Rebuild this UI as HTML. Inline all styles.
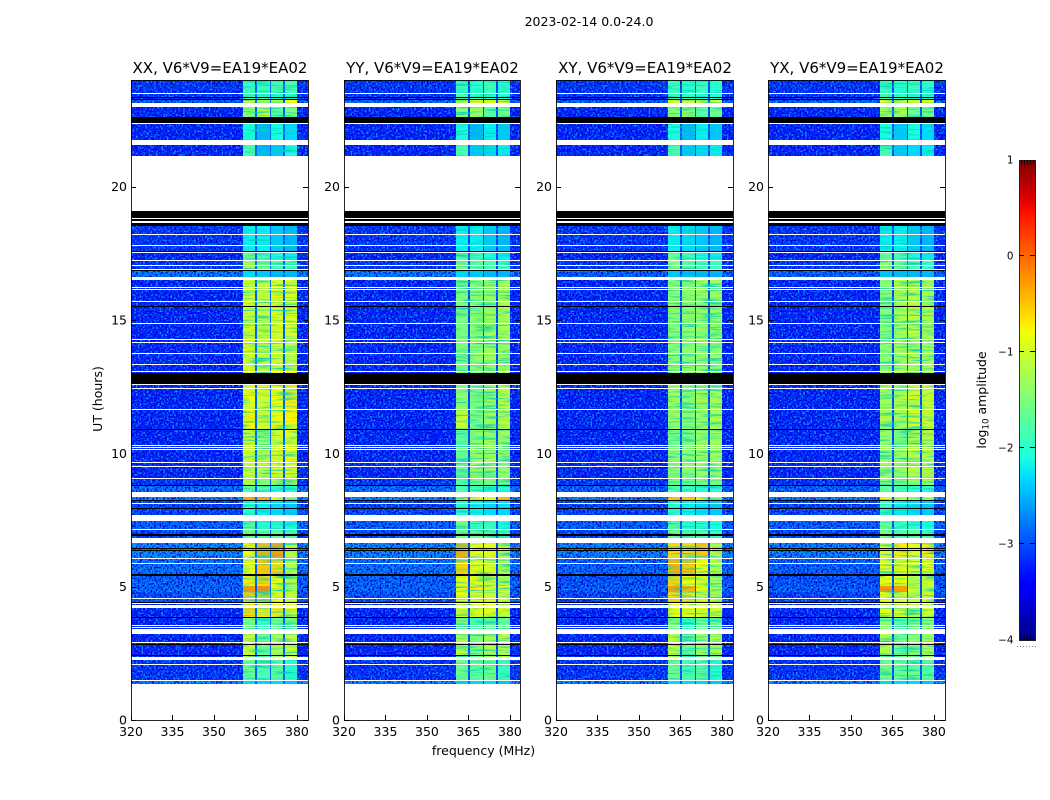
<!DOCTYPE html>
<html>
<head>
<meta charset="utf-8">
<title>2023-02-14 0.0-24.0</title>
<style>
html,body{margin:0;padding:0;background:#fff;}
svg{display:block;}
text{font-family:"DejaVu Sans","Liberation Sans",sans-serif;fill:#000;}
</style>
</head>
<body>
<svg id="chart" width="1050" height="800" viewBox="0 0 1050 800" xmlns="http://www.w3.org/2000/svg">
<defs>
<filter id="speckleLight" x="0" y="0" width="100%" height="100%" color-interpolation-filters="sRGB">
<feTurbulence type="fractalNoise" baseFrequency="0.55" numOctaves="1" seed="4"/>
<feColorMatrix type="matrix" values="0 0 0 0 0.05  0 0 0 0 0.62  0 0 0 0 1  4.4 0 0 0 -2.0"/>
</filter>
<filter id="speckleDark" x="0" y="0" width="100%" height="100%" color-interpolation-filters="sRGB">
<feTurbulence type="fractalNoise" baseFrequency="0.55" numOctaves="1" seed="9"/>
<feColorMatrix type="matrix" values="0 0 0 0 0  0 0 0 0 0  0 0 0 0 0.82  4.4 0 0 0 -2.0"/>
</filter>
<filter id="speckleBand" x="0" y="0" width="100%" height="100%" color-interpolation-filters="sRGB">
<feTurbulence type="fractalNoise" baseFrequency="0.04 0.6" numOctaves="2" seed="13"/>
<feColorMatrix type="matrix" values="0 0 0 0 0  0 0 0 0 0.8  0 0 0 0 0.75  2.6 0 0 0 -1.2"/>
</filter>
</defs>
</svg>
<script>
// ---- chart data (UT hours, MHz, log10 amplitude) ----
const panelTitles = ["XX, V6*V9=EA19*EA02", "YY, V6*V9=EA19*EA02", "XY, V6*V9=EA19*EA02", "YX, V6*V9=EA19*EA02"];
const xTickValues = [320, 335, 350, 365, 380];
const yTickValues = [0, 5, 10, 15, 20];
const colorTickValues = [-4, -3, -2, -1, 0, 1];
const freqEdges = [320, 360.5, 365, 365.7, 370.2, 370.7, 375.1, 375.8, 379.9, 384];
const hourEdges = [24, 23.48, 23.29, 23.14, 22.61, 22.35, 21.75, 21.15, 18.53, 17.59, 17.25, 16.88, 16.61, 15.53, 14.25, 13.05, 11.63, 10.88, 10.24, 9.04, 8.78, 8.36, 8.21, 7.69, 7.13, 6.64, 6.08, 5.44, 5.03, 4.8, 4.35, 3.86, 3.41, 2.36, 1.5, 1.35];
const notchLevels = [-2.95, -3.1, -3.05, -3.05];
// each row: background, sub-band 1, sub-band 2, sub-band 3, sub-band 4
const xxLevels = [
[-3.15,-1.9,-1.9,-1.8,-1.8],[-3.15,-1.8,-1.9,-2.0,-2.0],[-2.85,-0.9,-1.1,-1.1,-0.8],[-3.25,-1.4,-1.1,-1.7,-1.5],[-3.25,-1.4,-1.1,-1.7,-1.5],
[-3.25,-2.1,-2.5,-2.1,-2.3],[-3.25,-1.8,-2.5,-2.4,-2.1],[-3.25,-1.8,-2.5,-2.4,-2.1],[-3.15,-2.2,-2.2,-2.4,-2.5],[-3.25,-1.6,-1.8,-2.1,-2.2],
[-3.15,-1.2,-1.6,-1.8,-1.8],[-2.7,-2.3,-2.4,-2.5,-2.5],[-3.25,-1.0,-1.1,-0.9,-0.9],[-3.25,-1.0,-1.1,-0.9,-0.95],[-3.25,-0.95,-1.05,-0.95,-1.1],
[-3.25,-0.8,-1.0,-0.8,-0.7],[-3.25,-0.75,-1.0,-0.8,-0.75],[-3.25,-1.0,-1.4,-1.0,-0.9],[-3.25,-0.95,-1.1,-0.9,-0.85],[-3.15,-1.1,-1.4,-1.3,-1.2],
[-2.75,-1.6,-1.8,-2.0,-2.0],[-2.6,-0.3,-0.35,-0.8,-1.2],[-3.05,-2.0,-2.2,-2.3,-2.4],[-2.85,-1.7,-2.0,-2.0,-2.1],[-3.05,-1.5,-1.6,-1.6,-1.8],
[-2.6,-0.8,-0.45,-0.3,-1.1],[-2.75,-0.8,-0.5,-0.6,-1.2],[-2.85,-0.7,-0.6,-0.8,-1.1],[-2.8,-0.25,-0.2,-0.8,-1.1],[-2.95,-0.5,-0.6,-0.9,-1.1],
[-3.25,-0.6,-0.7,-0.7,-0.8],[-3.25,-1.5,-1.9,-1.6,-1.5],[-3.25,-1.0,-1.6,-1.2,-1.1],[-3.15,-1.6,-1.8,-1.7,-2.0],[-2.6,-2.3,-2.3,-2.3,-2.4]];
const yyLevels = [
[-3.15,-1.9,-2.0,-1.9,-2.0],[-3.15,-1.8,-1.9,-2.0,-2.0],[-2.85,-0.85,-0.95,-0.95,-0.9],[-3.25,-1.4,-1.3,-1.7,-1.5],[-3.25,-1.4,-1.3,-1.7,-1.5],
[-3.25,-2.1,-2.5,-2.2,-2.4],[-3.25,-1.8,-2.4,-2.3,-2.2],[-3.25,-1.8,-2.4,-2.3,-2.2],[-3.15,-2.2,-2.2,-2.4,-2.5],[-3.25,-1.7,-1.9,-2.1,-2.2],
[-3.15,-1.5,-1.7,-1.8,-1.9],[-2.7,-2.3,-2.4,-2.5,-2.5],[-3.25,-1.5,-1.4,-1.3,-1.2],[-3.25,-1.5,-1.4,-1.3,-1.25],[-3.25,-1.5,-1.4,-1.3,-1.3],
[-3.25,-1.4,-1.5,-1.3,-1.15],[-3.25,-1.05,-1.5,-1.3,-1.15],[-3.25,-1.7,-1.4,-1.3,-1.3],[-3.25,-1.6,-1.3,-1.3,-1.35],[-3.15,-1.7,-1.5,-1.5,-1.5],
[-2.75,-1.8,-1.8,-2.0,-2.0],[-2.6,-0.85,-0.95,-1.0,-0.5],[-3.05,-2.0,-2.2,-2.3,-2.3],[-2.85,-1.5,-1.9,-1.9,-2.1],[-3.05,-1.5,-1.6,-1.6,-1.8],
[-2.6,-0.4,-0.8,-0.9,-1.2],[-2.75,-0.6,-0.9,-0.9,-1.2],[-2.85,-0.8,-0.9,-1.0,-1.2],[-2.8,-0.8,-0.7,-0.9,-0.8],[-2.95,-0.8,-0.9,-1.0,-1.0],
[-3.25,-0.9,-0.9,-0.9,-1.0],[-3.25,-1.5,-1.8,-1.6,-1.6],[-3.25,-1.1,-1.5,-1.2,-1.1],[-3.15,-1.6,-1.7,-1.6,-1.9],[-2.6,-2.3,-2.3,-2.3,-2.4]];
const xyLevels = [
[-3.15,-1.9,-2.0,-1.9,-2.0],[-3.15,-1.8,-1.9,-2.0,-2.0],[-2.85,-0.9,-1.0,-1.1,-0.9],[-3.25,-1.4,-1.3,-1.7,-1.6],[-3.25,-1.4,-1.3,-1.7,-1.6],
[-3.25,-2.1,-2.5,-2.2,-2.4],[-3.25,-1.8,-2.4,-2.3,-2.2],[-3.25,-1.8,-2.4,-2.3,-2.2],[-3.15,-2.2,-2.3,-2.4,-2.5],[-3.25,-1.6,-1.8,-2.1,-2.2],
[-3.15,-1.4,-1.7,-1.8,-1.9],[-2.85,-2.4,-2.5,-2.5,-2.5],[-3.25,-1.4,-1.4,-1.3,-1.3],[-3.25,-1.4,-1.4,-1.35,-1.3],[-3.25,-1.4,-1.4,-1.35,-1.35],
[-3.25,-1.3,-1.4,-1.25,-1.2],[-3.25,-1.25,-1.4,-1.25,-1.2],[-3.25,-1.5,-1.5,-1.3,-1.3],[-3.25,-1.4,-1.4,-1.3,-1.3],[-3.15,-1.5,-1.6,-1.5,-1.5],
[-2.85,-1.7,-1.9,-2.0,-2.0],[-2.65,-0.5,-0.5,-0.9,-1.2],[-3.05,-2.0,-2.2,-2.3,-2.4],[-2.85,-1.7,-2.0,-2.0,-2.1],[-3.05,-1.5,-1.7,-1.7,-1.9],
[-2.65,-0.6,-0.6,-0.5,-1.2],[-2.85,-0.4,-0.5,-0.8,-1.2],[-2.95,-0.6,-0.8,-0.9,-1.2],[-2.85,-0.3,-0.4,-0.9,-1.1],[-3.05,-0.6,-0.7,-1.0,-1.1],
[-3.25,-0.8,-0.9,-0.9,-1.0],[-3.25,-1.5,-1.9,-1.6,-1.6],[-3.25,-1.1,-1.6,-1.3,-1.2],[-3.15,-1.6,-1.8,-1.7,-2.0],[-2.6,-2.3,-2.3,-2.3,-2.4]];
const yxLevels = [
[-3.15,-1.9,-2.0,-1.9,-2.0],[-3.15,-1.8,-1.9,-2.0,-2.0],[-2.85,-0.9,-1.0,-1.0,-0.85],[-3.25,-1.3,-1.2,-1.6,-1.5],[-3.25,-1.3,-1.2,-1.6,-1.5],
[-3.25,-2.1,-2.4,-2.1,-2.3],[-3.25,-1.8,-2.4,-2.3,-2.2],[-3.25,-1.8,-2.4,-2.3,-2.2],[-3.15,-2.2,-2.2,-2.4,-2.5],[-3.25,-1.6,-1.8,-2.1,-2.2],
[-3.15,-1.4,-1.6,-1.8,-1.9],[-2.85,-2.4,-2.5,-2.5,-2.5],[-3.25,-1.45,-1.2,-1.1,-1.2],[-3.25,-1.45,-1.2,-1.1,-1.2],[-3.25,-1.4,-1.25,-1.15,-1.2],
[-3.25,-1.25,-1.2,-1.0,-1.0],[-3.25,-1.2,-1.25,-1.0,-1.0],[-3.25,-1.35,-1.5,-1.1,-1.1],[-3.25,-1.3,-1.3,-1.15,-1.1],[-3.15,-1.4,-1.5,-1.4,-1.3],
[-2.85,-1.7,-1.8,-2.0,-2.0],[-2.65,-0.9,-1.0,-1.1,-1.2],[-3.05,-1.9,-2.2,-2.3,-2.4],[-2.85,-1.6,-1.9,-2.0,-2.1],[-3.05,-1.5,-1.7,-1.6,-1.8],
[-2.65,-0.9,-0.7,-0.9,-0.7],[-2.85,-0.9,-0.9,-1.0,-0.9],[-2.95,-0.8,-0.85,-1.1,-0.95],[-2.85,-0.25,-0.3,-1.0,-0.9],[-3.05,-0.85,-0.9,-1.1,-0.95],
[-3.25,-0.85,-0.9,-1.15,-0.9],[-3.25,-1.4,-1.7,-1.5,-1.4],[-3.25,-1.15,-1.6,-1.4,-1.2],[-3.15,-1.5,-1.6,-1.6,-1.7],[-2.6,-2.3,-2.3,-2.3,-2.4]];
// flagged time ranges: [upper hour, lower hour]
const whiteBands = [[23.52,23.49],[23.15,22.99],[22.39,22.35],[21.76,21.56],[21.16,19.09],[18.81,18.78],[18.71,18.64],[18.21,18.17],[17.81,17.76],[17.55,17.51],[17.25,17.22],[17.05,17.03],[16.92,16.89],[16.61,16.5],[16.25,16.2],[16.16,16.14],[15.71,15.68],[14.89,14.85],[14.29,14.25],[14.18,14.15],[13.76,13.73],[13.35,13.32],[13.09,13.05],[12.59,12.56],[12.46,12.42],[11.66,11.63],[10.3,10.26],[10.23,10.19],[10.16,10.14],[9.68,9.64],[9.53,9.49],[9.08,9.04],[8.56,8.36],[8.14,8.1],[7.7,7.46],[7.16,7.13],[6.84,6.64],[6.09,6.06],[5.9,5.86],[4.58,4.54],[4.38,4.34],[4.31,4.2],[3.56,3.53],[3.49,3.45],[3.41,3.23],[2.93,2.89],[2.36,2.25],[2.1,2.06],[1.5,1.46],[1.35,0]];
const blackBands = [[23.38,23.34],[23.28,23.24],[22.61,22.39],[19.09,18.83],[18.78,18.71],[18.64,18.53],[17.6,17.56],[16.89,16.85],[15.53,15.49],[13.02,12.6],[10.91,10.88],[8.81,8.78],[8.25,8.21],[7.96,7.92],[6.96,6.89],[6.46,6.42],[6.38,6.34],[5.46,5.39],[4.43,4.39],[3.86,3.83],[2.85,2.81],[2.44,2.4]];

// ---- layout ----
const svg = document.getElementById('chart');
const NS = 'http://www.w3.org/2000/svg';
const panelLefts = [131, 344, 556, 768];
const panelWidths = [177, 176, 177, 177];
const plotTop = 80, plotBottom = 720;
const allLevels = [xxLevels, yyLevels, xyLevels, yxLevels];
const panelKeys = ['xx', 'yy', 'xy', 'yx'];
const bandColumn = [0, 1, -1, 2, -1, 3, -1, 4, 0];
const xScale = (f, left) => left + (f - 320) / (384 - 320) * 177;
const yScale = h => plotBottom - h / 24 * (plotBottom - plotTop);
const cbarTop = 160, cbarBottom = 640, cbarLeft = 1019, cbarRight = 1035;
const cScale = v => cbarBottom - (v + 4) / 5 * (cbarBottom - cbarTop);

function ramp(t, pts) {
  for (let i = 1; i < pts.length; i++) {
    if (t <= pts[i][0]) {
      const a = pts[i - 1], b = pts[i];
      return a[1] + (b[1] - a[1]) * (t - a[0]) / (b[0] - a[0]);
    }
  }
  return pts[pts.length - 1][1];
}
function jet(v) {
  const t = Math.max(0, Math.min(1, (v + 4) / 5));
  const r = ramp(t, [[0,0],[.35,0],[.66,1],[.89,1],[1,.5]]);
  const g = ramp(t, [[0,0],[.125,0],[.375,1],[.64,1],[.91,0],[1,0]]);
  const b = ramp(t, [[0,.5],[.11,1],[.34,1],[.65,0],[1,0]]);
  return 'rgb(' + Math.round(r * 255) + ',' + Math.round(g * 255) + ',' + Math.round(b * 255) + ')';
}
function make(tag, parent, attrs) {
  const el = document.createElementNS(NS, tag);
  for (const k in attrs) el.setAttribute(k, attrs[k]);
  parent.appendChild(el);
  return el;
}

panelLefts.forEach(function (left, p) {
  const key = panelKeys[p];
  const levels = allLevels[p];
  const panelWidth = panelWidths[p];
  const g = make('g', svg, {});
  
  

  // heatmap cells
  const cells = make('g', g, {'shape-rendering': 'crispEdges'});
  
  
  levels.forEach(function (row, r) {
    const y0 = Math.round(yScale(hourEdges[r]));
    const y1 = Math.round(yScale(hourEdges[r + 1]));
    bandColumn.forEach(function (c, i) {
      const x0 = Math.round(xScale(freqEdges[i], left));
      const x1 = Math.min(left + panelWidth, Math.round(xScale(freqEdges[i + 1], left)));
      const v = c < 0 ? notchLevels[p] : row[c];
      const cell = make('rect', cells, {x: x0, y: y0, width: x1 - x0, height: y1 - y0, fill: jet(v)});
      
      
    });
  });

  // decorative channel-noise texture, background channels and bands
  const texTop = Math.round(yScale(hourEdges[0]));
  const texH = Math.round(yScale(hourEdges[hourEdges.length - 1])) - texTop;
  const bgL = Math.round(xScale(freqEdges[1], left));
  const bgR = Math.round(xScale(freqEdges[8], left));
  const tex1 = make('rect', g, {x: left, y: texTop, width: bgL - left, height: texH, filter: 'url(#speckleLight)'});
  
  
  const tex2 = make('rect', g, {x: left, y: texTop, width: bgL - left, height: texH, filter: 'url(#speckleDark)'});
  
  
  const tex3 = make('rect', g, {x: bgR, y: texTop, width: left + panelWidth - bgR, height: texH, filter: 'url(#speckleLight)'});
  
  
  const tex4 = make('rect', g, {x: bgR, y: texTop, width: left + panelWidth - bgR, height: texH, filter: 'url(#speckleDark)'});
  
  
  const tex5 = make('rect', g, {x: bgL, y: texTop, width: bgR - bgL, height: texH, filter: 'url(#speckleBand)'});
  
  

  // flagged bands
  const flags = make('g', g, {'shape-rendering': 'crispEdges'});
  
  
  whiteBands.forEach(function (b) {
    const y0 = Math.round(yScale(b[0]));
    const h = Math.max(1, Math.round(yScale(b[1])) - y0);
    const band = make('rect', flags, {x: left, y: y0, width: panelWidth, height: h, fill: '#fff'});
    
    
  });
  blackBands.forEach(function (b) {
    const y0 = Math.round(yScale(b[0]));
    const h = Math.max(1, Math.round(yScale(b[1])) - y0);
    const band = make('rect', flags, {x: left, y: y0, width: panelWidth, height: h, fill: '#000'});
    
    
  });

  // frame
  const frame = make('rect', g, {x: left + .5, y: plotTop + .5, width: panelWidth, height: plotBottom - plotTop, fill: 'none', stroke: '#000', 'stroke-width': 1, 'stroke-opacity': .85});
  
  

  // x ticks
  xTickValues.forEach(function (f) {
    const x = Math.round(xScale(f, left)) + .5;
    const tick = make('line', g, {x1: x, x2: x, y1: plotBottom, y2: plotBottom - 5, stroke: '#000', 'stroke-width': 1});
    
    
    const topTick = make('line', g, {x1: x, x2: x, y1: plotTop, y2: plotTop + 5, stroke: '#000', 'stroke-width': 1, 'stroke-opacity': .5});
    
    
    const label = make('text', g, {x: xScale(f, left), y: 736, 'text-anchor': 'middle', 'font-size': '12.5px'});
    
    
    label.textContent = f;
  });

  // y ticks
  yTickValues.forEach(function (h) {
    const y = Math.round(yScale(h)) + .5;
    const tick = make('line', g, {x1: left, x2: left + 5, y1: y, y2: y, stroke: '#000', 'stroke-width': 1});
    
    
    const tickR = make('line', g, {x1: left + panelWidth, x2: left + panelWidth - 5, y1: y, y2: y, stroke: '#000', 'stroke-width': 1});
    
    
    const label = make('text', g, {x: left - 4, y: yScale(h) + 4.5, 'text-anchor': 'end', 'font-size': '12.5px'});
    
    
    label.textContent = h;
  });

  // panel title
  const title = make('text', g, {x: left + panelWidth / 2 + .5, y: 73, 'text-anchor': 'middle', 'font-size': '15px'});
  
  
  title.textContent = panelTitles[p];
});

// figure labels
const sup = make('text', svg, {x: 589, y: 26, 'text-anchor': 'middle', 'font-size': '12.5px'});


sup.textContent = '2023-02-14 0.0-24.0';
const xTitle = make('text', svg, {x: 483.5, y: 755, 'text-anchor': 'middle', 'font-size': '12.5px'});


xTitle.textContent = 'frequency (MHz)';
const yTitle = make('text', svg, {x: 0, y: 0, 'text-anchor': 'middle', 'font-size': '12.5px', transform: 'translate(102,399) rotate(-90)'});


yTitle.textContent = 'UT (hours)';

// colorbar
const cbar = make('g', svg, {});


const defs = svg.querySelector('defs');
const grad = make('linearGradient', defs, {id: 'jetGrad', x1: 0, y1: 1, x2: 0, y2: 0});
for (let i = 0; i <= 50; i++) {
  make('stop', grad, {offset: (i / 50), 'stop-color': jet(-4 + i / 10)});
}
const cbarRect = make('rect', cbar, {x: cbarLeft + .5, y: cbarTop + .5, width: cbarRight - cbarLeft, height: cbarBottom - cbarTop, fill: 'url(#jetGrad)', stroke: '#000', 'stroke-width': 1, 'stroke-opacity': .8});


colorTickValues.forEach(function (v) {
  const y = Math.round(cScale(v)) - .5;
  if (v > -4 && v < 1) {
    const t1 = make('line', cbar, {x1: cbarLeft, x2: cbarLeft + 5, y1: y, y2: y, stroke: '#000', 'stroke-width': 1});
    
    
    const t2 = make('line', cbar, {x1: cbarRight, x2: cbarRight - 5, y1: y, y2: y, stroke: '#000', 'stroke-width': 1});
    
    
  }
  const label = make('text', cbar, {x: 1013.5, y: cScale(v) + 3.5, 'text-anchor': 'end', 'font-size': '10.4px'});
  
  
  label.textContent = String(v).replace('-', '\u2212');
});
[2, 5, 8, 11, 14].forEach(function (dx) {
  const top = make('line', cbar, {x1: cbarLeft + dx + .5, x2: cbarLeft + dx + .5, y1: cbarTop, y2: cbarTop + 5, stroke: '#000', 'stroke-width': .7});
  
  
  const bot = make('line', cbar, {x1: cbarLeft + dx + .5, x2: cbarLeft + dx + .5, y1: cbarBottom, y2: cbarBottom - 5, stroke: '#000', 'stroke-width': .7});
  
  
});
[0, 3, 6, 9, 12, 15, 18].forEach(function (dx) {
  const dot = make('rect', cbar, {x: 1017 + dx, y: 646, width: 1, height: 1, fill: '#888'});
  
  
});
const cTitle = make('text', svg, {x: 0, y: 0, 'text-anchor': 'middle', 'font-size': '12.5px', transform: 'translate(986,400) rotate(-90)'});


const s1 = make('tspan', cTitle, {});
s1.textContent = 'log';
const s2 = make('tspan', cTitle, {dy: 2.5, 'font-size': '8.7px'});
s2.textContent = '10';
const s3 = make('tspan', cTitle, {dy: -2.5});
s3.textContent = ' amplitude';
</script>
</body>
</html>
